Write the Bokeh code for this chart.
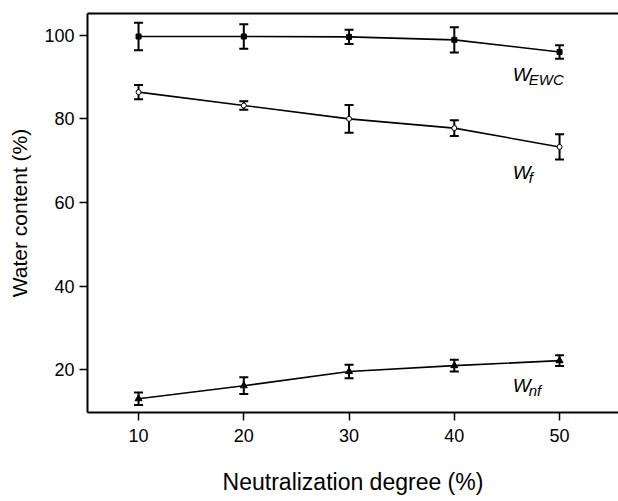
from bokeh.plotting import figure
from bokeh.models import Range1d, Whisker, ColumnDataSource, LinearAxis, FixedTicker, TeeHead
from bokeh.core.properties import value
from bokeh.embed import file_html
from bokeh.resources import INLINE

# Data
neutralization = [10, 20, 30, 40, 50]
w_ewc = [99.7, 99.7, 99.6, 98.9, 96.0]
w_ewc_err = [3.3, 2.9, 1.7, 3.0, 1.6]
w_f = [86.4, 83.2, 80.0, 77.8, 73.3]
w_f_err = [1.7, 1.0, 3.3, 1.9, 3.0]
w_nf = [13.1, 16.2, 19.6, 21.0, 22.2]
w_nf_err = [1.5, 2.0, 1.6, 1.4, 1.3]
x_ticks = [10, 20, 30, 40, 50]
y_ticks = [20, 40, 60, 80, 100]

FONT = "Liberation Sans"

p = figure(width=618, height=501, output_backend="svg", toolbar_location=None,
           x_range=Range1d(5.15, 55.6), y_range=Range1d(9.8, 105.2),
           min_border_left=87, min_border_right=0, min_border_top=13, min_border_bottom=89)
p.outline_line_color = None
p.grid.visible = False
p.background_fill_color = "white"
p.border_fill_color = "white"

for ax in (p.xaxis[0], p.yaxis[0]):
    ax.axis_line_width = 2
    ax.axis_line_color = "black"
    ax.major_tick_line_width = 1.5
    ax.major_tick_line_color = "black"
    ax.major_tick_in = 0
    ax.major_tick_out = 8
    ax.minor_tick_line_color = None
    ax.major_label_text_font = FONT
    ax.major_label_text_font_size = "18px"
    ax.major_label_text_color = "black"
    ax.axis_label_text_font = FONT
    ax.axis_label_text_font_style = "normal"
    ax.axis_label_text_color = "black"

p.xaxis.ticker = FixedTicker(ticks=x_ticks)
p.yaxis.ticker = FixedTicker(ticks=y_ticks)
p.xaxis.axis_label = "Neutralization degree (%)"
p.yaxis.axis_label = "Water content (%)"
p.xaxis.axis_label_text_font_size = "23px"
p.yaxis.axis_label_text_font_size = "21px"
p.xaxis.major_label_standoff = 8
p.xaxis.axis_label_standoff = 24
p.yaxis.major_label_standoff = 5
p.yaxis.axis_label_standoff = 10

top = LinearAxis(ticker=FixedTicker(ticks=[]), axis_line_width=2, axis_line_color="black",
                 major_tick_line_color=None, minor_tick_line_color=None,
                 major_label_text_font_size="0px")
p.add_layout(top, "above")

def series(y, err, marker, fill):
    src = ColumnDataSource(dict(x=neutralization, y=y,
                                upper=[a + b for a, b in zip(y, err)],
                                lower=[a - b for a, b in zip(y, err)]))
    p.line("x", "y", source=src, line_color="black", line_width=1.6)
    w = Whisker(base="x", upper="upper", lower="lower", source=src,
                line_color="black", line_width=2,
                upper_head=TeeHead(size=9, line_width=2, line_color="black"),
                lower_head=TeeHead(size=9, line_width=2, line_color="black"))
    p.add_layout(w)
    p.scatter("x", "y", source=src, marker=marker, size=5 if marker != "triangle" else 7,
              fill_color=fill, line_color="black", line_width=1)

series(w_ewc, w_ewc_err, "square", "black")
series(w_f, w_f_err, "circle", "white")
series(w_nf, w_nf_err, "triangle", "black")

labels = [("W", "EWC", 45.55, 90.6), ("W", "f", 45.55, 67.2), ("W", "nf", 45.55, 16.3)]
for main, sub, lx, ly in labels:
    p.text(x=[lx], y=[ly], text=[main], text_font=value(FONT), text_font_size="19px",
           text_font_style="italic", text_baseline="alphabetic", text_align="left", text_color="black")
    p.text(x=[lx], y=[ly], text=[sub], text_font=value(FONT), text_font_size="15px",
           text_font_style="italic", text_baseline="alphabetic", text_align="left",
           x_offset=16, y_offset=5, text_color="black")

open("out.html", "w").write(file_html(p, INLINE))
